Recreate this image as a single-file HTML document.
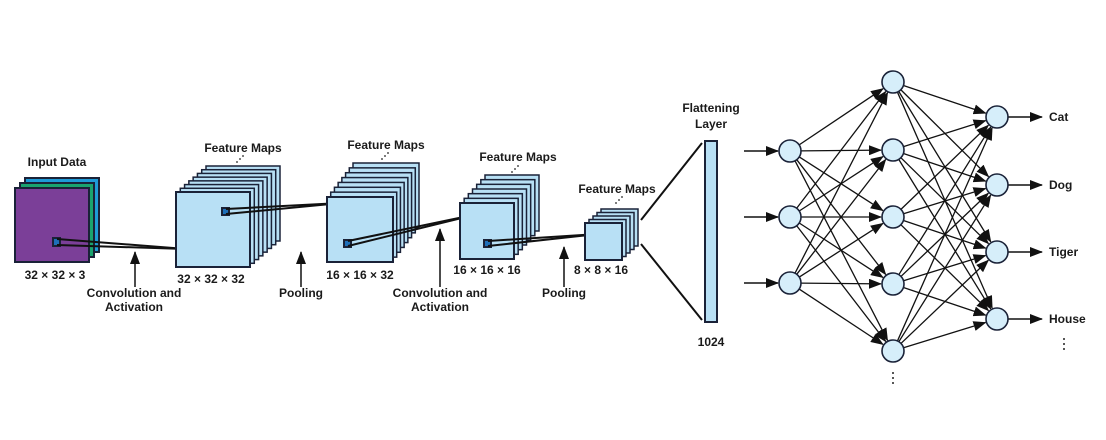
<!DOCTYPE html>
<html><head><meta charset="utf-8"><style>
html,body{margin:0;padding:0;background:#fff;}
svg text{font-family:"Liberation Sans",sans-serif;font-weight:bold;font-size:12px;fill:#1a1a1a;}
</style></head><body>
<svg id="s" width="1106" height="435" viewBox="0 0 1106 435" xmlns="http://www.w3.org/2000/svg">
<defs><marker id="a" markerWidth="13" markerHeight="10" refX="12" refY="5" orient="auto" markerUnits="userSpaceOnUse"><path d="M0,0 L13,5 L0,10 z" fill="#111"/></marker></defs>
<rect width="1106" height="435" fill="#fff"/>
<g id="g"></g>
</svg>
<script>
var g=document.getElementById('g'),h='';
function R(x,y,w,hh,f,sw){h+='<rect x="'+x+'" y="'+y+'" width="'+w+'" height="'+hh+'" fill="'+f+'" stroke="#1a2238" stroke-width="'+(sw||2)+'"/>';}
function L(x1,y1,x2,y2,m,w){h+='<line x1="'+x1+'" y1="'+y1+'" x2="'+x2+'" y2="'+y2+'" stroke="#111" stroke-width="'+(w||1.5)+'"'+(m?' marker-end="url(#a)"':'')+'/>';}
function T(x,y,t,a){h+='<text x="'+x+'" y="'+y+'" text-anchor="'+(a||'middle')+'">'+t+'</text>';}
function dots(x,y){h+='<circle cx="'+x+'" cy="'+y+'" r="0.9" fill="#222"/><circle cx="'+(x+3)+'" cy="'+(y-3)+'" r="0.9" fill="#222"/><circle cx="'+(x+6)+'" cy="'+(y-6)+'" r="0.9" fill="#222"/>';}
function stack(x,y,w,hh,bx,by,n){for(var i=n-1;i>=0;i--){var dx=(bx-(x+w))*i/(n-1),dy=(by-y)*i/(n-1);R(x+dx,y+dy,w,hh,'#b8e0f5',i?1.5:2);}}
R(25,178,74,74,'#1e9bd7');R(20,183,74,74,'#1aa36f');R(15,188,74,74,'#7b3f98');
R(53,238,7,8,'#1e6fb8');
L(57,239,186,249,0,2);L(57,245,186,249,0,2);
T(57,166,'Input Data');T(55,279,'32 × 32 × 3');
stack(176,192,74,75,280,166,8);
R(222,208,7,7,'#1e6fb8');
L(226,209,341,203,0,2);L(226,214,341,203,0,2);
T(243,152,'Feature Maps');dots(237,162);T(211,283,'32 × 32 × 32');
stack(327,197,66,65,419,163,8);
R(344,240,7,7,'#1e6fb8');
L(348,241,478,214,0,2);L(348,246,478,214,0,2);
T(386,149,'Feature Maps');dots(382,159);T(360,279,'16 × 16 × 32');
stack(460,203,54,56,539,175,7);
R(484,240,7,7,'#1e6fb8');
L(488,241,598,234,0,2);L(488,246,598,234,0,2);
T(518,161,'Feature Maps');dots(512,172);T(487,274,'16 × 16 × 16');
stack(585,223,37,37,638,209,5);
T(617,193,'Feature Maps');dots(616,203);T(601,274,'8 × 8 × 16');
L(135,287,135,252,1,1.5);T(134,297,'Convolution and');T(134,311,'Activation');
L(301,287,301,252,1,1.5);T(301,297,'Pooling');
L(440,287,440,229,1,1.5);T(440,297,'Convolution and');T(440,311,'Activation');
L(564,287,564,247,1,1.5);T(564,297,'Pooling');
L(641,220,702,143,0,2);L(641,244,702,320,0,2);
R(705,141,12,181,'#b8e0f5');
T(711,112,'Flattening');T(711,128,'Layer');T(711,346,'1024');
var I=[[790,151],[790,217],[790,283]],H=[[893,82],[893,150],[893,217],[893,284],[893,351]],O=[[997,117],[997,185],[997,252],[997,319]],r=11;
function con(a,b){var dx=b[0]-a[0],dy=b[1]-a[1],d=Math.sqrt(dx*dx+dy*dy);L(a[0]+dx/d*r,a[1]+dy/d*r,b[0]-dx/d*(r+1),b[1]-dy/d*(r+1),1,1.3);}
I.forEach(function(a){H.forEach(function(b){con(a,b);});});
H.forEach(function(a){O.forEach(function(b){con(a,b);});});
I.forEach(function(a){L(744,a[1],a[0]-r-1,a[1],1,1.5);});
var names=['Cat','Dog','Tiger','House'];
O.forEach(function(a,i){L(a[0]+r,a[1],a[0]+r+34,a[1],1,1.5);T(1049,a[1]+4,names[i],'start');});
I.concat(H,O).forEach(function(c){h+='<circle cx="'+c[0]+'" cy="'+c[1]+'" r="'+r+'" fill="#d6eefa" stroke="#1a2238" stroke-width="1.6"/>';});
[[893,373],[893,378],[893,383],[1064,339],[1064,344],[1064,349]].forEach(function(p){h+='<circle cx="'+p[0]+'" cy="'+p[1]+'" r="1" fill="#222"/>';});
g.innerHTML=h;
</script>
</body></html>
